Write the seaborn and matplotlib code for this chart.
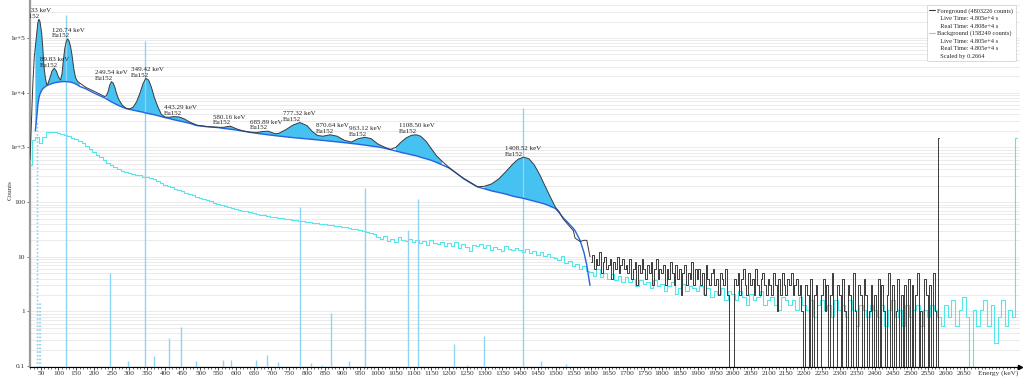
import numpy as np
import pandas as pd
import matplotlib
matplotlib.use('Agg')
import matplotlib.pyplot as plt
import seaborn as sns
from matplotlib.lines import Line2D

# ---- foreground, smooth part (keV, counts, fitted continuum) ----
fg_energy = [20, 24, 28, 32, 35, 38.8, 42, 45, 48, 52.8,
             56, 59.3, 63, 67, 70, 76, 82, 88, 94, 100,
             106, 110, 114, 118, 122, 126, 130, 134, 138, 143,
             148, 154, 160, 177, 198, 215, 230, 235, 240, 244,
             249, 254, 259, 264, 270, 280, 290, 300, 310, 320,
             330, 338, 346, 354, 362, 370, 380, 390, 400, 410,
             425, 440, 455, 470, 490, 520, 550, 565, 584, 600,
             620, 640, 660, 675, 690, 710, 720, 740, 760, 780,
             800, 815, 830, 845, 865, 885, 905, 925, 945, 963,
             980, 1000, 1020, 1035, 1050, 1065, 1080, 1095, 1108, 1120,
             1135, 1150, 1165, 1180, 1200, 1220, 1240, 1260, 1280, 1300,
             1320, 1340, 1360, 1380, 1395, 1410, 1425, 1440, 1455, 1470,
             1485, 1500, 1510, 1521, 1532, 1550, 1555, 1569, 1580, 1588,
             1597]
fg_counts = [600, 3000, 15000, 45000, 70000, 123000, 190000, 220000, 200000, 123000,
             65000, 30000, 19000, 14000, 14400, 18600, 25000, 28000, 25000, 19400,
             17000, 22000, 40000, 65000, 86000, 96000, 88000, 70000, 50000, 28000,
             19000, 16000, 15000, 12500, 10800, 9500, 8500, 8800, 10500, 13500,
             15900, 15000, 12500, 9500, 7500, 5900, 5200, 5050, 5400, 6800,
             10000, 14500, 18300, 17000, 12500, 8200, 5500, 4000, 3600, 3550,
             3650, 3600, 3300, 2900, 2550, 2400, 2330, 2330, 2450, 2200,
             2000, 1900, 1880, 1950, 1980, 1780, 1800, 2100, 2550, 2850,
             2500, 1950, 1650, 1600, 1700, 1600, 1350, 1250, 1450, 1530,
             1450, 1150, 1000, 920, 1000, 1250, 1500, 1670, 1700, 1600,
             1300, 950, 700, 560, 430, 340, 275, 230, 190, 195,
             215, 265, 360, 500, 610, 660, 620, 480, 320, 200,
             125, 80, 67, 50, 41, 30, 22, 19, 20, 20,
             10]
nan = np.nan
cont_counts = [nan, nan, nan, nan, 2000, 3500, 6000, 8000, 9500, 11000,
               11800, 12300, 12900, 13400, 13700, 14200, 14700, 15100, 15400, 15600,
               15800, 15900, 15950, 15950, 15900, 15850, 15750, 15600, 15400, 15000,
               14500, 13800, 13000, 11800, 10000, 8900, 8050, 7700, 7400, 7100,
               6800, 6550, 6300, 6050, 5800, 5450, 5150, 4950, 4800, 4650,
               4500, 4400, 4250, 4150, 4050, 3950, 3800, 3650, 3500, 3400,
               3200, 3050, 2900, 2750, 2500, 2380, 2300, 2220, 2150, 2080,
               1980, 1880, 1800, 1750, 1700, 1640, 1610, 1560, 1510, 1470,
               1430, 1400, 1370, 1340, 1300, 1260, 1220, 1180, 1140, 1100,
               1060, 1020, 960, 910, 860, 810, 770, 730, 700, 660,
               620, 580, 530, 480, 420, 340, 270, 225, 190, 175,
               160, 150, 140, 128, 122, 117, 110, 104, 98, 92,
               84, 76, 64, 52, 44, 33, 30, 20, 12, 7,
               3]

# ---- foreground tail, 5 keV bins from 1600 keV (last bin = overflow) ----
fg_tail_start = 1600
fg_tail_counts = [8, 11, 6, 9, 7, 12, 5, 8, 10, 6, 7, 9, 4, 8, 6, 10, 5, 7, 9, 6,
                  7, 5, 9, 4, 6, 8, 3, 7, 5, 9, 6, 4, 7, 5, 8, 3, 6, 9, 4, 6,
                  5, 7, 3, 6, 4, 8, 5, 3, 7, 4, 6, 2, 5, 7, 3, 5, 4, 8, 3, 6,
                  4, 6, 3, 5, 2, 7, 4, 3, 5, 6, 3, 4, 2, 5, 4, 3, 6, 2, 0, 0,
                  0, 4, 3, 5, 2, 4, 6, 3, 2, 5, 3, 4, 2, 6, 3, 2, 4, 5, 3, 2,
                  4, 3, 2, 5, 3, 1, 4, 2, 5, 3, 2, 4, 3, 5, 2, 3, 4, 2, 3, 1,
                  0, 3, 2, 0, 4, 0, 2, 3, 0, 0, 2, 4, 1, 3, 0, 2, 5, 0, 0, 3,
                  2, 0, 4, 1, 0, 3, 2, 0, 5, 1, 0, 3, 2, 0, 4, 2, 0, 1, 3, 0,
                  2, 0, 4, 0, 3, 1, 0, 2, 5, 0, 3, 0, 1, 4, 0, 2, 0, 3, 0, 4,
                  0, 3, 0, 2, 5, 0, 1, 0, 4, 2, 0, 3, 0, 5, 1, 0,
                  1480]
fg_tail_step = 5

# ---- background, raw counts in 10 keV bins from 20 keV ----
bg_start = 20
bg_step = 10
bg_raw = [1800, 5200, 5700, 4600, 5900, 7050, 7250, 7100, 6950, 6700,
          6400, 6150, 5650, 5300, 4850, 4450, 4050, 3550, 3150, 2780,
          2460, 2200, 1970, 1790, 1620, 1490, 1400, 1345, 1285, 1230,
          1190, 1150, 1100, 1065, 1035, 975, 930, 850, 775, 745,
          700, 662, 618, 594, 548, 530, 497, 470, 446, 428,
          402, 388, 360, 347, 330, 316, 303, 295, 279, 274,
          260, 254, 243, 238, 229, 222, 215, 212, 203, 199,
          195, 193, 186, 184, 178, 177, 171, 169, 165, 163,
          158, 155, 152, 150, 144, 143, 139, 136, 133, 131,
          126, 123, 119, 117, 112, 108, 103, 99,
          85, 78, 90, 74, 81, 69, 88, 76, 72, 80,
          70, 77, 66, 73, 61, 75, 68, 64, 71, 60,
          66, 59, 70, 55, 63, 57, 48, 62, 58, 65,
          54, 61, 50, 57, 53, 47, 58, 52, 49, 55,
          50, 46, 53, 44, 48, 41, 45, 39, 43, 37,
          36, 33, 38, 29, 31, 26, 28, 22, 25, 21,
          20, 17, 22, 16, 19, 15, 18, 14, 17, 13,
          16, 13, 15, 11, 14, 12, 13, 10, 14, 11,
          12, 9, 11, 13, 8, 10, 12, 9, 11, 10,
          9, 11, 8, 10, 7, 9, 8, 10, 6, 9,
          8, 6, 9, 7, 5, 8, 6, 7, 9, 5,
          6, 7, 5, 4, 7, 6, 5, 6, 4, 7,
          5, 4, 6, 3, 5, 6, 4, 5, 3, 6,
          4, 5, 3, 6, 4, 2, 5, 4, 3, 5,
          4, 3, 5, 2, 4, 6, 3, 4, 2, 5,
          3, 4, 5, 2, 4, 3, 5, 4, 3, 2,
          5, 3, 6, 2, 4, 7, 3, 0, 4, 2,
          4, 6, 2, 5, 1, 3, 6, 2, 4, 3,
          5630]
bg_scale = 0.2664

# ---- fitted peak regions and labels ----
roi_lo = [34, 232, 300, 405, 555, 650, 715, 1040, 1285]
roi_hi = [161, 296, 402, 495, 625, 715, 1025, 1186, 1501]
peak_mean = [39.33, 89.83, 126.74, 249.54, 349.42, 443.29, 580.16,
             685.89, 777.32, 870.64, 963.12, 1108.50, 1408.52]
peak_top = [2.2e5, 2.8e4, 9.6e4, 1.59e4, 1.83e4, 3.65e3, 2.45e3,
            1.98e3, 2.85e3, 1.7e3, 1.53e3, 1.7e3, 660]
peak_nuclide = 'Eu152'

# ---- Eu152 reference lines ----
xray_energy = [39.52, 40.12, 45.4, 46.7]
xray_height = [3000, 3000, 1.5, 1.5]
gamma_energy = [121.78, 244.70, 295.94, 344.28, 367.79, 411.12, 443.96, 488.68,
                563.99, 586.27, 656.49, 688.67, 719.35, 778.90, 810.45, 841.57,
                867.38, 919.33, 964.08, 1085.84, 1112.08, 1212.95, 1249.94,
                1299.14, 1408.01, 1457.64, 1528.10]
gamma_height = [2.6e5, 5.1, 0.125, 8.8e4, 0.155, 0.33, 0.52, 0.125,
                0.13, 0.13, 0.13, 0.16, 0.12, 81, 0.115, 0.105,
                0.94, 0.125, 182, 31, 115, 0.25, 0.105,
                0.35, 5250, 0.125, 0.11]

legend_lines = ['Foreground (4803226 counts)', '  Live Time: 4.805e+4 s', '  Real Time: 4.808e+4 s',
                'Background (158249 counts)', '  Live Time: 4.805e+4 s', '  Real Time: 4.805e+4 s',
                '  Scaled by 0.2664']

y_ticks = [0.1, 1, 10, 100, 1e3, 1e4, 1e5]
y_tick_labels = ['0.1', '1', '10', '100', '1e+3', '1e+4', '1e+5']

fg_color = '#3a3a3a'
bg_color = '#55e6ea'
cont_color = '#2563e0'
fill_color = '#45c1f2'
ref_color = '#8fd3f6'

sns.set_theme(style='white')
plt.rcParams['font.family'] = ['Liberation Serif', 'DejaVu Serif']

fig = plt.figure(figsize=(10.24, 3.79), dpi=100)
ax = fig.add_axes([29.5 / 1024, 12 / 379, 990.5 / 1024, 367 / 379])

ymin, ymax = 0.0966, 4.95e5

# background spectrum (scaled)
bg_df = pd.DataFrame({'energy': bg_start + bg_step * np.arange(len(bg_raw)),
                      'counts': np.array(bg_raw) * bg_scale})
sns.lineplot(data=bg_df, x='energy', y='counts', color=bg_color, linewidth=0.8,
             drawstyle='steps-mid', estimator=None, ax=ax, zorder=2)

# peak fills between continuum and foreground
e = np.array(fg_energy, dtype=float)
fg = np.array(fg_counts, dtype=float)
cont = np.array(cont_counts, dtype=float)
in_roi = np.zeros(len(e), dtype=bool)
for lo, hi in zip(roi_lo, roi_hi):
    in_roi |= (e >= lo) & (e <= hi)
mask = in_roi & np.isfinite(cont)
ax.fill_between(e, np.where(np.isfinite(cont), cont, fg), fg, where=mask,
                color=fill_color, linewidth=0, zorder=3)

# reference lines
ax.vlines(gamma_energy, ymin, gamma_height, colors=ref_color, linewidth=1.0, zorder=4)
ax.vlines(xray_energy, ymin, xray_height, colors=ref_color, linewidth=1.0,
          linestyles=':', zorder=4)

# continuum
cdf = pd.DataFrame({'energy': e[np.isfinite(cont)], 'counts': cont[np.isfinite(cont)]})
sns.lineplot(data=cdf, x='energy', y='counts', color=cont_color, linewidth=1.0,
             estimator=None, ax=ax, zorder=5)

# foreground spectrum
fdf = pd.DataFrame({'energy': e, 'counts': fg})
sns.lineplot(data=fdf, x='energy', y='counts', color=fg_color, linewidth=0.7,
             estimator=None, ax=ax, zorder=6)
tdf = pd.DataFrame({'energy': fg_tail_start + fg_tail_step * np.arange(len(fg_tail_counts)),
                    'counts': fg_tail_counts})
sns.lineplot(data=tdf, x='energy', y='counts', color=fg_color, linewidth=0.7,
             drawstyle='steps-mid', estimator=None, ax=ax, zorder=6)

ax.set_yscale('log')
ax.set_xlim(18.5, 2808)
ax.set_ylim(ymin, ymax)

# peak labels
for pm, pt in zip(peak_mean, peak_top):
    ax.text(pm, pt * 1.03, f'{pm:.2f} keV\n{peak_nuclide}', ha='center', va='bottom',
            multialignment='left', fontsize=5, color='#222222', clip_on=True,
            linespacing=1.15, zorder=8)

# axes styling
ax.set_yticks(y_ticks, y_tick_labels)
ax.set_xticks(np.arange(50, 2651, 50))
ax.set_xticks(np.arange(20, 2801, 10), minor=True)
ax.set_xticklabels([str(v) for v in np.arange(50, 2651, 50)])
ax.yaxis.grid(True, which='both', color='#e8e8e8', linewidth=0.6)
ax.xaxis.grid(False)
ax.set_axisbelow(True)
ax.tick_params(axis='x', which='major', bottom=True, length=2.2, width=0.5, color='black',
               pad=0.5, labelsize=5.3, labelcolor='#333333')
ax.tick_params(axis='x', which='minor', bottom=True, length=1.3, width=0.4, color='black')
ax.tick_params(axis='y', which='major', left=True, length=2.2, width=0.6, color='#666666',
               pad=1, labelsize=5.3, labelcolor='#333333')
ax.tick_params(axis='y', which='minor', left=False, length=0)
for s in ['top', 'right']:
    ax.spines[s].set_visible(False)
ax.spines['left'].set_color('#9a9a9a')
ax.spines['left'].set_linewidth(1.6)
ax.spines['bottom'].set_color('black')
ax.spines['bottom'].set_linewidth(0.8)

ax.set_xlabel('')
ax.set_ylabel('Counts', fontsize=5, color='#333333')
ax.yaxis.set_label_coords(-0.0167, 0.482)
ax.text(0.9576, -0.009, 'Energy (keV)', transform=ax.transAxes, ha='left', va='top',
        fontsize=5.3, color='#333333')
ax.plot([1.0], [0.0], marker='>', color='black', markersize=3, transform=ax.transAxes,
        clip_on=False)

# legend
handles = [Line2D([], [], color=fg_color, linewidth=0.8), Line2D([], [], linestyle='none'),
           Line2D([], [], linestyle='none'), Line2D([], [], color=bg_color, linewidth=0.8),
           Line2D([], [], linestyle='none'), Line2D([], [], linestyle='none'),
           Line2D([], [], linestyle='none')]
leg = ax.legend(handles, legend_lines, loc='upper right', bbox_to_anchor=(0.996, 0.986),
                fontsize=4.6, frameon=True, fancybox=True, framealpha=1,
                edgecolor='#cccccc', handlelength=0.8, handletextpad=0.4,
                labelspacing=0.3, borderpad=0.45, borderaxespad=0)
leg.get_frame().set_linewidth(0.5)
leg.set_zorder(10)

fig.savefig('out.png', dpi=100)
